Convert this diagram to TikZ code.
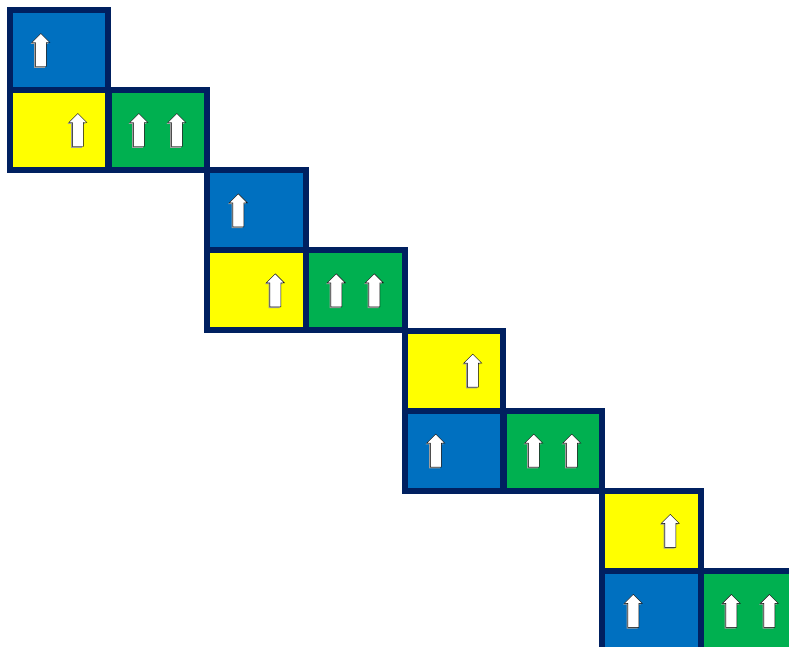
\documentclass[tikz,border=0pt]{standalone}
\definecolor{cellblue}{RGB}{0,112,192}
\definecolor{cellyellow}{RGB}{255,255,0}
\definecolor{cellgreen}{RGB}{0,176,80}
\definecolor{cellframe}{RGB}{0,32,96}
\tikzset{
	cell/.style={draw=cellframe,line width=6pt,minimum width=98.5pt,minimum height=80pt,inner sep=0pt,outer sep=0pt},
	uparrow/.pic={
		\fill[gray!75] (-1.3,-15.2) -- (7.7,-6.2) -- (4.2,-6.2) -- (4.2,17.8) -- (-6.8,17.8) -- (-6.8,-6.2) -- (-10.3,-6.2) -- cycle;
		\draw[fill=white,line width=0.4pt] (0,-16.5) -- (9,-7.5) -- (5.5,-7.5) -- (5.5,16.5) -- (-5.5,16.5) -- (-5.5,-7.5) -- (-9,-7.5) -- cycle;
	}
}
\begin{document}
\begin{tikzpicture}[x=1pt,y=-1pt]
	\clip (0,0) rectangle (789,647);
	% first step
	\node[cell,fill=cellblue] (b1) at (58.8,50) {};
	\node[cell,fill=cellyellow] (y1) at (58.8,130) {};
	\node[cell,fill=cellgreen] (g1) at (157.8,130) {};
	\pic at ([xshift=-18]b1.center) {uparrow};
	\pic at ([xshift=19]y1.center) {uparrow};
	\pic at ([xshift=-19]g1.center) {uparrow};
	\pic at ([xshift=19]g1.center) {uparrow};
	% second step
	\node[cell,fill=cellblue] (b2) at (256.3,210.3) {};
	\node[cell,fill=cellyellow] (y2) at (256.3,290.3) {};
	\node[cell,fill=cellgreen] (g2) at (355.3,290.3) {};
	\pic at ([xshift=-18]b2.center) {uparrow};
	\pic at ([xshift=19]y2.center) {uparrow};
	\pic at ([xshift=-19]g2.center) {uparrow};
	\pic at ([xshift=19]g2.center) {uparrow};
	% third step
	\node[cell,fill=cellyellow] (y3) at (453.8,370.6) {};
	\node[cell,fill=cellblue] (b3) at (453.8,450.6) {};
	\node[cell,fill=cellgreen] (g3) at (552.8,450.6) {};
	\pic at ([xshift=19]y3.center) {uparrow};
	\pic at ([xshift=-18]b3.center) {uparrow};
	\pic at ([xshift=-19]g3.center) {uparrow};
	\pic at ([xshift=19]g3.center) {uparrow};
	% fourth step
	\node[cell,fill=cellyellow] (y4) at (651.3,530.9) {};
	\node[cell,fill=cellblue] (b4) at (651.3,610.9) {};
	\node[cell,fill=cellgreen] (g4) at (750.3,610.9) {};
	\pic at ([xshift=19]y4.center) {uparrow};
	\pic at ([xshift=-18]b4.center) {uparrow};
	\pic at ([xshift=-19]g4.center) {uparrow};
	\pic at ([xshift=19]g4.center) {uparrow};
\end{tikzpicture}
\end{document}
